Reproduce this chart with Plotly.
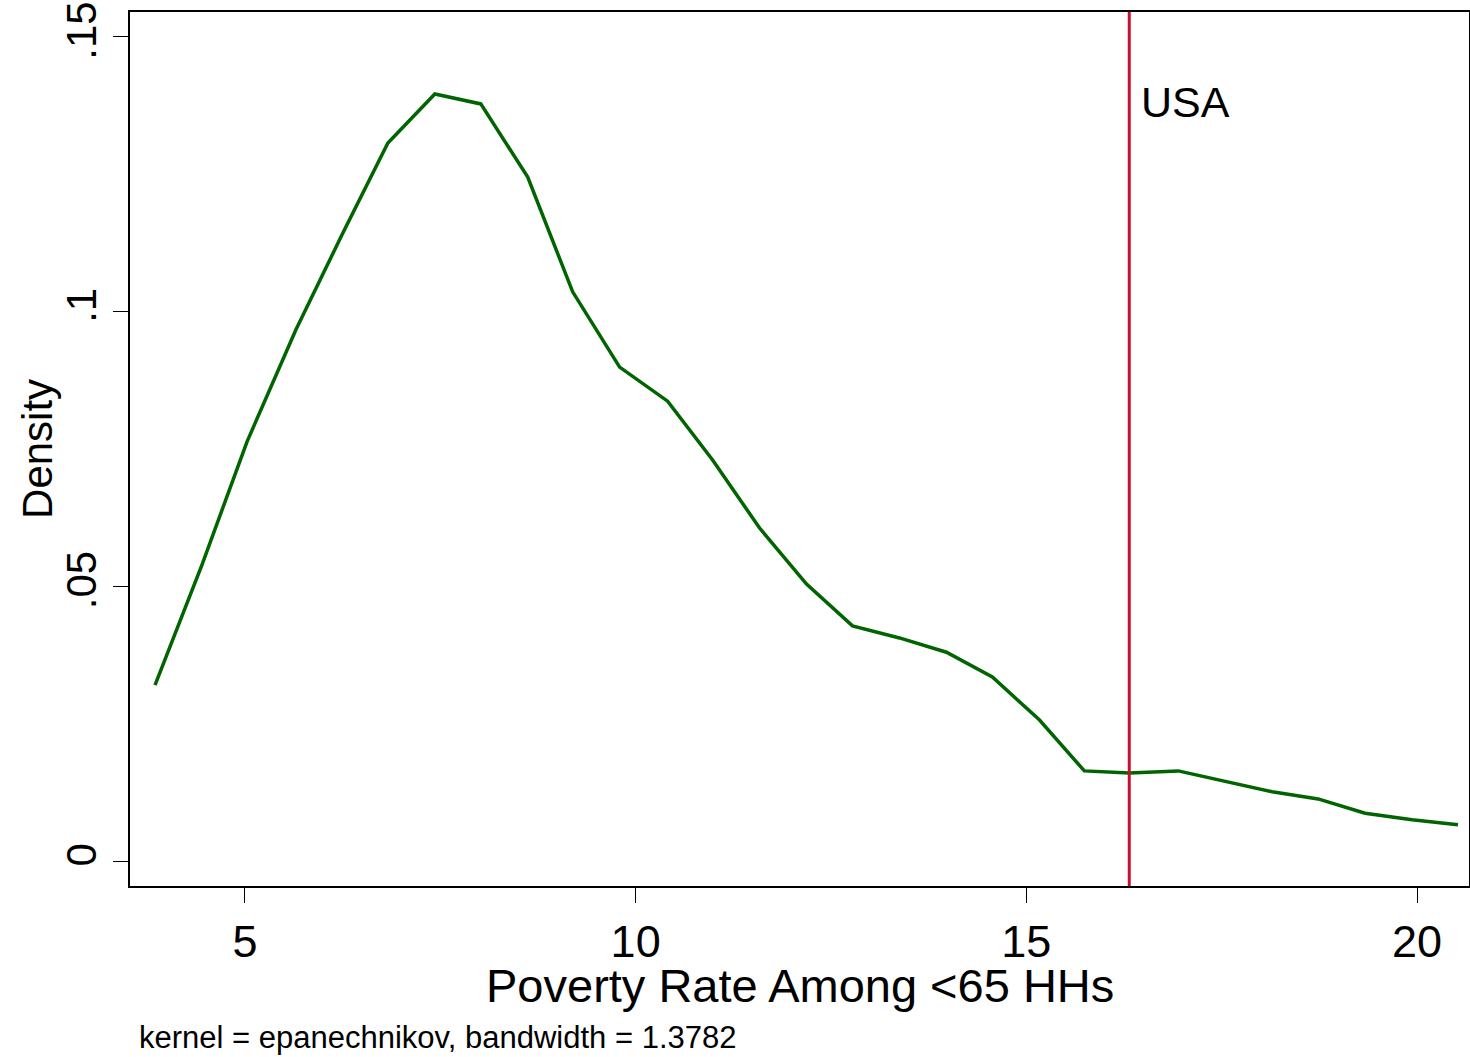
import plotly.graph_objects as go

# Kernel density estimate
poverty_rate = [3.849, 4.450, 5.026, 5.652, 6.253, 6.829, 7.430, 8.018, 8.619, 9.194,
                9.795, 10.409, 10.985, 11.586, 12.187, 12.775, 13.376, 13.977, 14.565,
                15.166, 15.742, 16.317, 16.944, 17.558, 18.146, 18.734, 19.335, 19.936, 20.524]
density = [0.0320, 0.0539, 0.0763, 0.0967, 0.1143, 0.1307, 0.1396, 0.1378, 0.1245, 0.1036,
           0.0899, 0.0837, 0.0730, 0.0606, 0.0504, 0.0428, 0.0406, 0.0380, 0.0335,
           0.0257, 0.0164, 0.0160, 0.0164, 0.0144, 0.0126, 0.0113, 0.0087, 0.0075, 0.0066]

usa_value = 16.317
usa_label = "USA"

x_ticks = [5, 10, 15, 20]
y_ticks = [0, 0.05, 0.1, 0.15]
y_ticklabels = ["0", ".05", ".1", ".15"]

x_title = "Poverty Rate Among <65 HHs"
y_title = "Density"
note = "kernel = epanechnikov, bandwidth = 1.3782"

FONT = "Liberation Sans, Arial, Helvetica, sans-serif"

fig = go.Figure()
fig.add_trace(go.Scatter(x=poverty_rate, y=density, mode="lines",
                         line=dict(color="#006400", width=3.5), showlegend=False,
                         hoverinfo="skip"))

fig.add_shape(type="line", xref="x", yref="paper", x0=usa_value, x1=usa_value, y0=0, y1=1,
              line=dict(color="#C8102E", width=3))

fig.add_annotation(x=usa_value, y=0.1382, xref="x", yref="y", text=usa_label,
                   showarrow=False, xanchor="left", yanchor="middle", xshift=10,
                   font=dict(family=FONT, size=43, color="black"))

# axis titles placed as annotations for precise position
fig.add_annotation(x=0.5, y=-0.1133, xref="paper", yref="paper", text=x_title,
                   showarrow=False, xanchor="center", yanchor="middle",
                   font=dict(family=FONT, size=47, color="black"))

fig.add_annotation(x=-0.0695, y=0.5, xref="paper", yref="paper", text=y_title,
                   showarrow=False, xanchor="center", yanchor="middle", textangle=-90,
                   font=dict(family=FONT, size=42, color="black"))

fig.add_annotation(x=0.005, y=-0.1728, xref="paper", yref="paper", text=note,
                   showarrow=False, xanchor="left", yanchor="middle",
                   font=dict(family=FONT, size=31, color="black"))

fig.update_layout(
    width=1470, height=1057,
    margin=dict(l=130, r=1, t=12, b=171),
    paper_bgcolor="white", plot_bgcolor="white",
    font=dict(family=FONT, color="black"),
)

fig.update_xaxes(range=[3.529, 20.665], tickvals=x_ticks, ticks="outside", ticklen=15,
                 tickwidth=1, tickcolor="black", showgrid=False, zeroline=False,
                 showline=True, linecolor="black", linewidth=2, mirror=True,
                 automargin=False,
                 tickfont=dict(size=45, family=FONT))

fig.update_yaxes(range=[-0.00455, 0.15453], tickvals=y_ticks, ticktext=y_ticklabels,
                 tickangle=-90, ticks="outside", ticklen=15, tickwidth=1, tickcolor="black",
                 showgrid=False, zeroline=False, showline=True, linecolor="black",
                 linewidth=2, mirror=True, automargin=False, ticklabeloverflow="allow",
                 tickfont=dict(size=42, family=FONT))

# remove the browser's default 8px body margin so the figure sits at the page origin
fig.write_html("out.html", config={"displayModeBar": False},
               post_script="document.body.style.margin='0';document.body.style.overflow='hidden';")
